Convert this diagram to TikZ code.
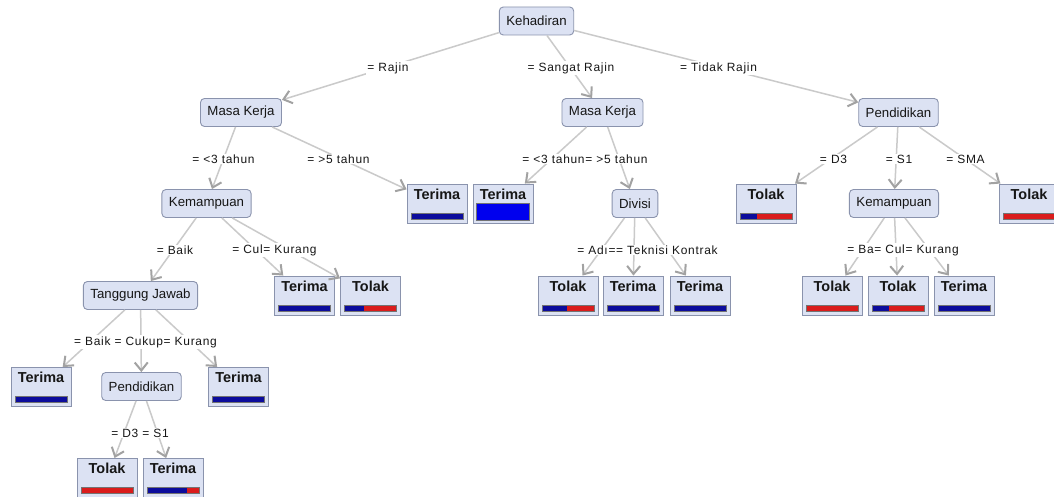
\documentclass[tikz,border=0pt]{standalone}
\usepackage{fontspec}
\setmainfont{Liberation Sans}
\newfontfamily\lblfont[LetterSpace=6]{Liberation Sans}
\usetikzlibrary{arrows.meta,calc}
\definecolor{nodefill}{HTML}{DCE2F3}
\definecolor{nodedraw}{HTML}{8A93AD}
\definecolor{edgecol}{HTML}{CACACA}
\definecolor{tipcol}{HTML}{A2A2A2}
\definecolor{barblue}{HTML}{0C0C9C}
\definecolor{brightblue}{HTML}{0000EE}
\definecolor{barred}{HTML}{DA1C1C}
\definecolor{txt}{HTML}{161616}
\tikzset{
  inner/.style={draw=nodedraw, fill=nodefill, rounded corners=4bp, line width=0.9bp,
    font=\fontsize{13.3}{15}\selectfont, text=txt, inner xsep=7bp, inner ysep=0bp,
    minimum height=28bp},
  leaf/.style={draw=nodedraw, fill=nodefill, line width=0.9bp, minimum width=60bp,
    minimum height=39bp, inner sep=0bp},
  leaftext/.style={font=\bfseries\fontsize{14.5}{16}\selectfont, text=txt, inner sep=0bp},
  edge/.style={draw=edgecol, line width=1.5bp,
    -{Straight Barb[length=8bp,width=13bp,line width=2bp,color=tipcol]}},
  lbl/.style={fill=white, inner xsep=1bp, inner ysep=1bp, text=txt,
    font=\lblfont\fontsize{12}{14}\selectfont},
  barline/.style={draw=black!55, line width=0.6bp}
}
\newcommand{\leafbox}[5]{%
  \node[leaf] (#1) at (#2,#3) {};
  \node[leaftext, anchor=north] (#1t) at ($(#1.north)+(0,5)$) {#4};
  \pgfmathsetmacro\bxl{#2-26}
  \pgfmathsetmacro\bxr{#2+26}
  \pgfmathsetmacro\bxm{#2-26+52*#5}
  \pgfmathsetmacro\byt{#3+9.5}
  \pgfmathsetmacro\byb{#3+15.5}
  \fill[barblue] (\bxl,\byt) rectangle (\bxm,\byb);
  \fill[barred] (\bxm,\byt) rectangle (\bxr,\byb);
  \draw[barline] (\bxl,\byt) rectangle (\bxr,\byb);
}
\begin{document}
\begin{tikzpicture}[x=1bp,y=-1bp]
\fill[white] (0,0) rectangle (1054,497);
\useasboundingbox (0,0) rectangle (1054,497);
% inner nodes
\node[inner] (keh) at (536.5,21) {Kehadiran};
\node[inner] (mk1) at (241,112.5) {Masa Kerja};
\node[inner] (mk2) at (602.5,112.5) {Masa Kerja};
\node[inner] (pen1) at (898.5,112.5) {Pendidikan};
\node[inner] (kem1) at (206.5,203.5) {Kemampuan};
\node[inner] (div) at (635,203.5) {Divisi};
\node[inner] (kem2) at (894,203.5) {Kemampuan};
\node[inner] (tj) at (140.5,295.5) {Tanggung Jawab};
\node[inner] (pen2) at (141.5,386.5) {Pendidikan};
% leaves
\leafbox{l1}{437}{203.5}{Terima}{1}
\node[leaf] (l4) at (503,203.5) {};
\node[leaftext, anchor=north] (l4t) at ($(l4.north)+(0,5)$) {Terima};
\fill[brightblue] (476,203) rectangle (529,220);
\draw[barline] (476,203) rectangle (529,220);
\leafbox{l2}{304.5}{295.5}{Terima}{1}
\leafbox{l3}{370.5}{295.5}{Tolak}{0.37}
\leafbox{l5}{568}{295.5}{Tolak}{0.48}
\leafbox{l6}{633}{295.5}{Terima}{1}
\leafbox{l7}{700}{295.5}{Terima}{1}
\leafbox{l8}{766}{203.5}{Tolak}{0.33}
\leafbox{l9}{1029}{203.5}{Tolak}{0}
\leafbox{l10}{832}{295.5}{Tolak}{0}
\leafbox{l11}{898}{295.5}{Tolak}{0.33}
\leafbox{l12}{964}{295.5}{Terima}{1}
\leafbox{l13}{41}{387}{Terima}{1}
\leafbox{l14}{238.5}{387}{Terima}{1}
\leafbox{l15}{107}{478}{Tolak}{0}
\leafbox{l16}{173}{478}{Terima}{0.77}
% edges
\draw[edge] (keh) -- (mk1);
\draw[edge] (keh) -- (mk2);
\draw[edge] (keh) -- (pen1);
\draw[edge] (mk1) -- (kem1);
\draw[edge] (mk1) -- (l1);
\draw[edge] (mk2) -- (l4);
\draw[edge] (mk2) -- (div);
\draw[edge] (pen1) -- (l8);
\draw[edge] (pen1) -- (kem2);
\draw[edge] (pen1) -- (l9);
\draw[edge] (kem1) -- (tj);
\draw[edge] (kem1) -- (l2);
\draw[edge] (kem1) -- (l3);
\draw[edge] (div) -- (l5);
\draw[edge] (div) -- (l6);
\draw[edge] (div) -- (l7);
\draw[edge] (kem2) -- (l10);
\draw[edge] (kem2) -- (l11);
\draw[edge] (kem2) -- (l12);
\draw[edge] (tj) -- (l13);
\draw[edge] (tj) -- (pen2);
\draw[edge] (tj) -- (l14);
\draw[edge] (pen2) -- (l15);
\draw[edge] (pen2) -- (l16);
% labels
\node[lbl] (e1) at (388,68) {= Rajin};
\node[lbl] (e2) at (571,68) {= Sangat Rajin};
\node[lbl] (e3) at (718.5,68) {= Tidak Rajin};
\node[lbl] (e4) at (223.5,159) {= <3 tahun};
\node[lbl] (e5) at (338.5,159) {= >5 tahun};
\node[lbl] (e6) at (585,159) {= <3 tahun= >5 tahun};
\node[lbl] (e7) at (175,250) {= Baik};
\node[lbl] (e8) at (274.5,250) {= Cul= Kurang};
\node[lbl] (e9) at (647.5,250) {= Adı== Teknisi Kontrak};
\node[lbl] (e10) at (833.5,159) {= D3};
\node[lbl] (e11) at (899,159) {= S1};
\node[lbl] (e12) at (965.5,159) {= SMA};
\node[lbl] (e13) at (903,250) {= Ba= Cul= Kurang};
\node[lbl] (e14) at (145.5,342) {= Baik = Cukup= Kurang};
\node[lbl] (e15) at (140,433) {= D3 = S1};
\end{tikzpicture}
\end{document}
